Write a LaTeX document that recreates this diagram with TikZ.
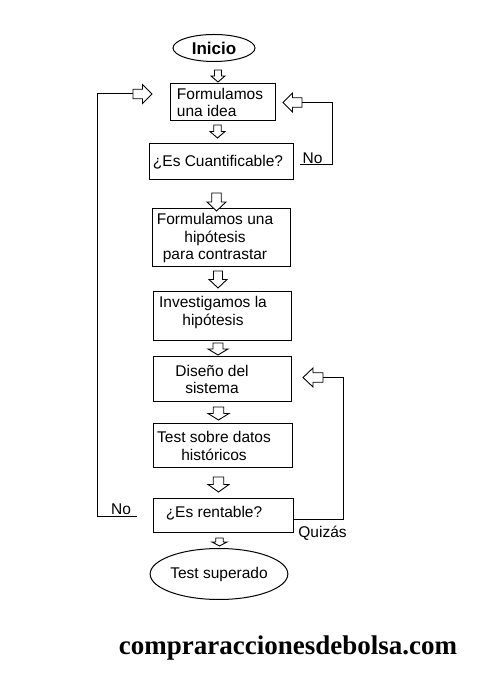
\documentclass[tikz,border=0pt]{standalone}
\usepackage{fontspec}
\setmainfont{Liberation Sans}
\newfontfamily\webfont{Liberation Serif}
\usetikzlibrary{shapes.geometric}

\begin{document}
\begin{tikzpicture}[x=1pt,y=1pt]

\tikzset{box/.style = {shape=rectangle,draw,line width=1pt,inner sep=0pt}}
\tikzset{oval/.style = {shape=ellipse,draw,line width=1pt,inner sep=0pt}}
\tikzset{txt/.style = {font=\fontsize{15.5}{17.5}\selectfont,align=center,inner sep=0pt}}
\tikzset{wire/.style = {draw,line width=1pt}}
\tikzset{darrow/.pic = {
  \draw[line width=0.9pt,fill=white] (-0.25,0.5) -- (0.25,0.5) -- (0.25,0) -- (0.5,0)
    -- (0,-0.5) -- (-0.5,0) -- (-0.25,0) -- cycle;
  \coordinate (-tail) at (0,0.5);
  \coordinate (-tip) at (0,-0.5);}}

\useasboundingbox (0,0) rectangle (477,679);

% start and end
\node[oval,minimum width=82pt,minimum height=27pt,font=\bfseries\fontsize{17}{20}\selectfont] (inicio) at (214,631) {Inicio};
\node[oval,minimum width=132pt,minimum height=51pt,txt] (fin) at (219,105) {Test superado};

% steps
\node[box,minimum width=105pt,minimum height=37pt,label={[txt,align=left,xshift=-2.5pt]center:Formulamos\\una idea}] (idea) at (222.5,576.5) {};
\node[box,minimum width=144pt,minimum height=36pt,label={[txt,xshift=-3pt]center:¿Es Cuantificable?}] (cuant) at (221,517) {};
\node[box,minimum width=138pt,minimum height=58pt,label={[txt,xshift=-6pt]center:Formulamos una\\hipótesis\\para contrastar}] (hipo) at (221,441) {};
\node[box,minimum width=138pt,minimum height=49pt,label={[txt,xshift=-9pt,yshift=4pt]center:Investigamos la\\hipótesis}] (inv) at (222,362.5) {};
\node[box,minimum width=138pt,minimum height=45pt,label={[txt,xshift=-10pt]center:Diseño del\\sistema}] (dis) at (222,299.5) {};
\node[box,minimum width=139pt,minimum height=44pt,label={[txt,xshift=-8.5pt]center:Test sobre datos\\históricos}] (test) at (222.5,233) {};
\node[box,minimum width=140pt,minimum height=34pt,label={[txt,xshift=-9pt,yshift=3pt]center:¿Es rentable?}] (rent) at (223,163) {};

% block arrows
\pic[xscale=14,yscale=12] (a1) at (218,603) {darrow};
\pic[xscale=15,yscale=13] (a2) at (217.5,547.5) {darrow};
\pic[xscale=19,yscale=18] (a3) at (216.5,477) {darrow};
\pic[xscale=18,yscale=17] (a4) at (218,399.5) {darrow};
\pic[xscale=20,yscale=12] (a5) at (218,330) {darrow};
\pic[xscale=21,yscale=13] (a6) at (218.5,265.5) {darrow};
\pic[xscale=21,yscale=15] (a7) at (218.5,194.5) {darrow};
\pic[xscale=15,yscale=8] (a8) at (219.5,137) {darrow};
\pic[rotate=90,scale=19] (aL) at (142.5,585) {darrow};
\pic[rotate=-90,scale=19] (aR) at (292.5,576.5) {darrow};
\pic[rotate=-90,xscale=19,yscale=20] (aQ) at (313,301.5) {darrow};

% loops back
\coordinate (noL) at (137,162);
\coordinate (noR) at (300,514);
\draw[wire] (noL) -- ++(-40,0) |- (aL-tail);
\draw[wire] (noR) -- ++(32,0) |- (aR-tail);
\draw[wire] ([yshift=-4pt]rent.east) -- ++(50,0) |- (aQ-tail);

\node[txt] (no1) at (312.5,521) {No};
\node[txt] (no2) at (121,170) {No};
\node[txt] (quiz) at (322.5,145.5) {Quizás};

\node[font=\webfont\bfseries\fontsize{27}{30}\selectfont,anchor=base] (web) at (288,24) {compraraccionesdebolsa.com};

\end{tikzpicture}
\end{document}
